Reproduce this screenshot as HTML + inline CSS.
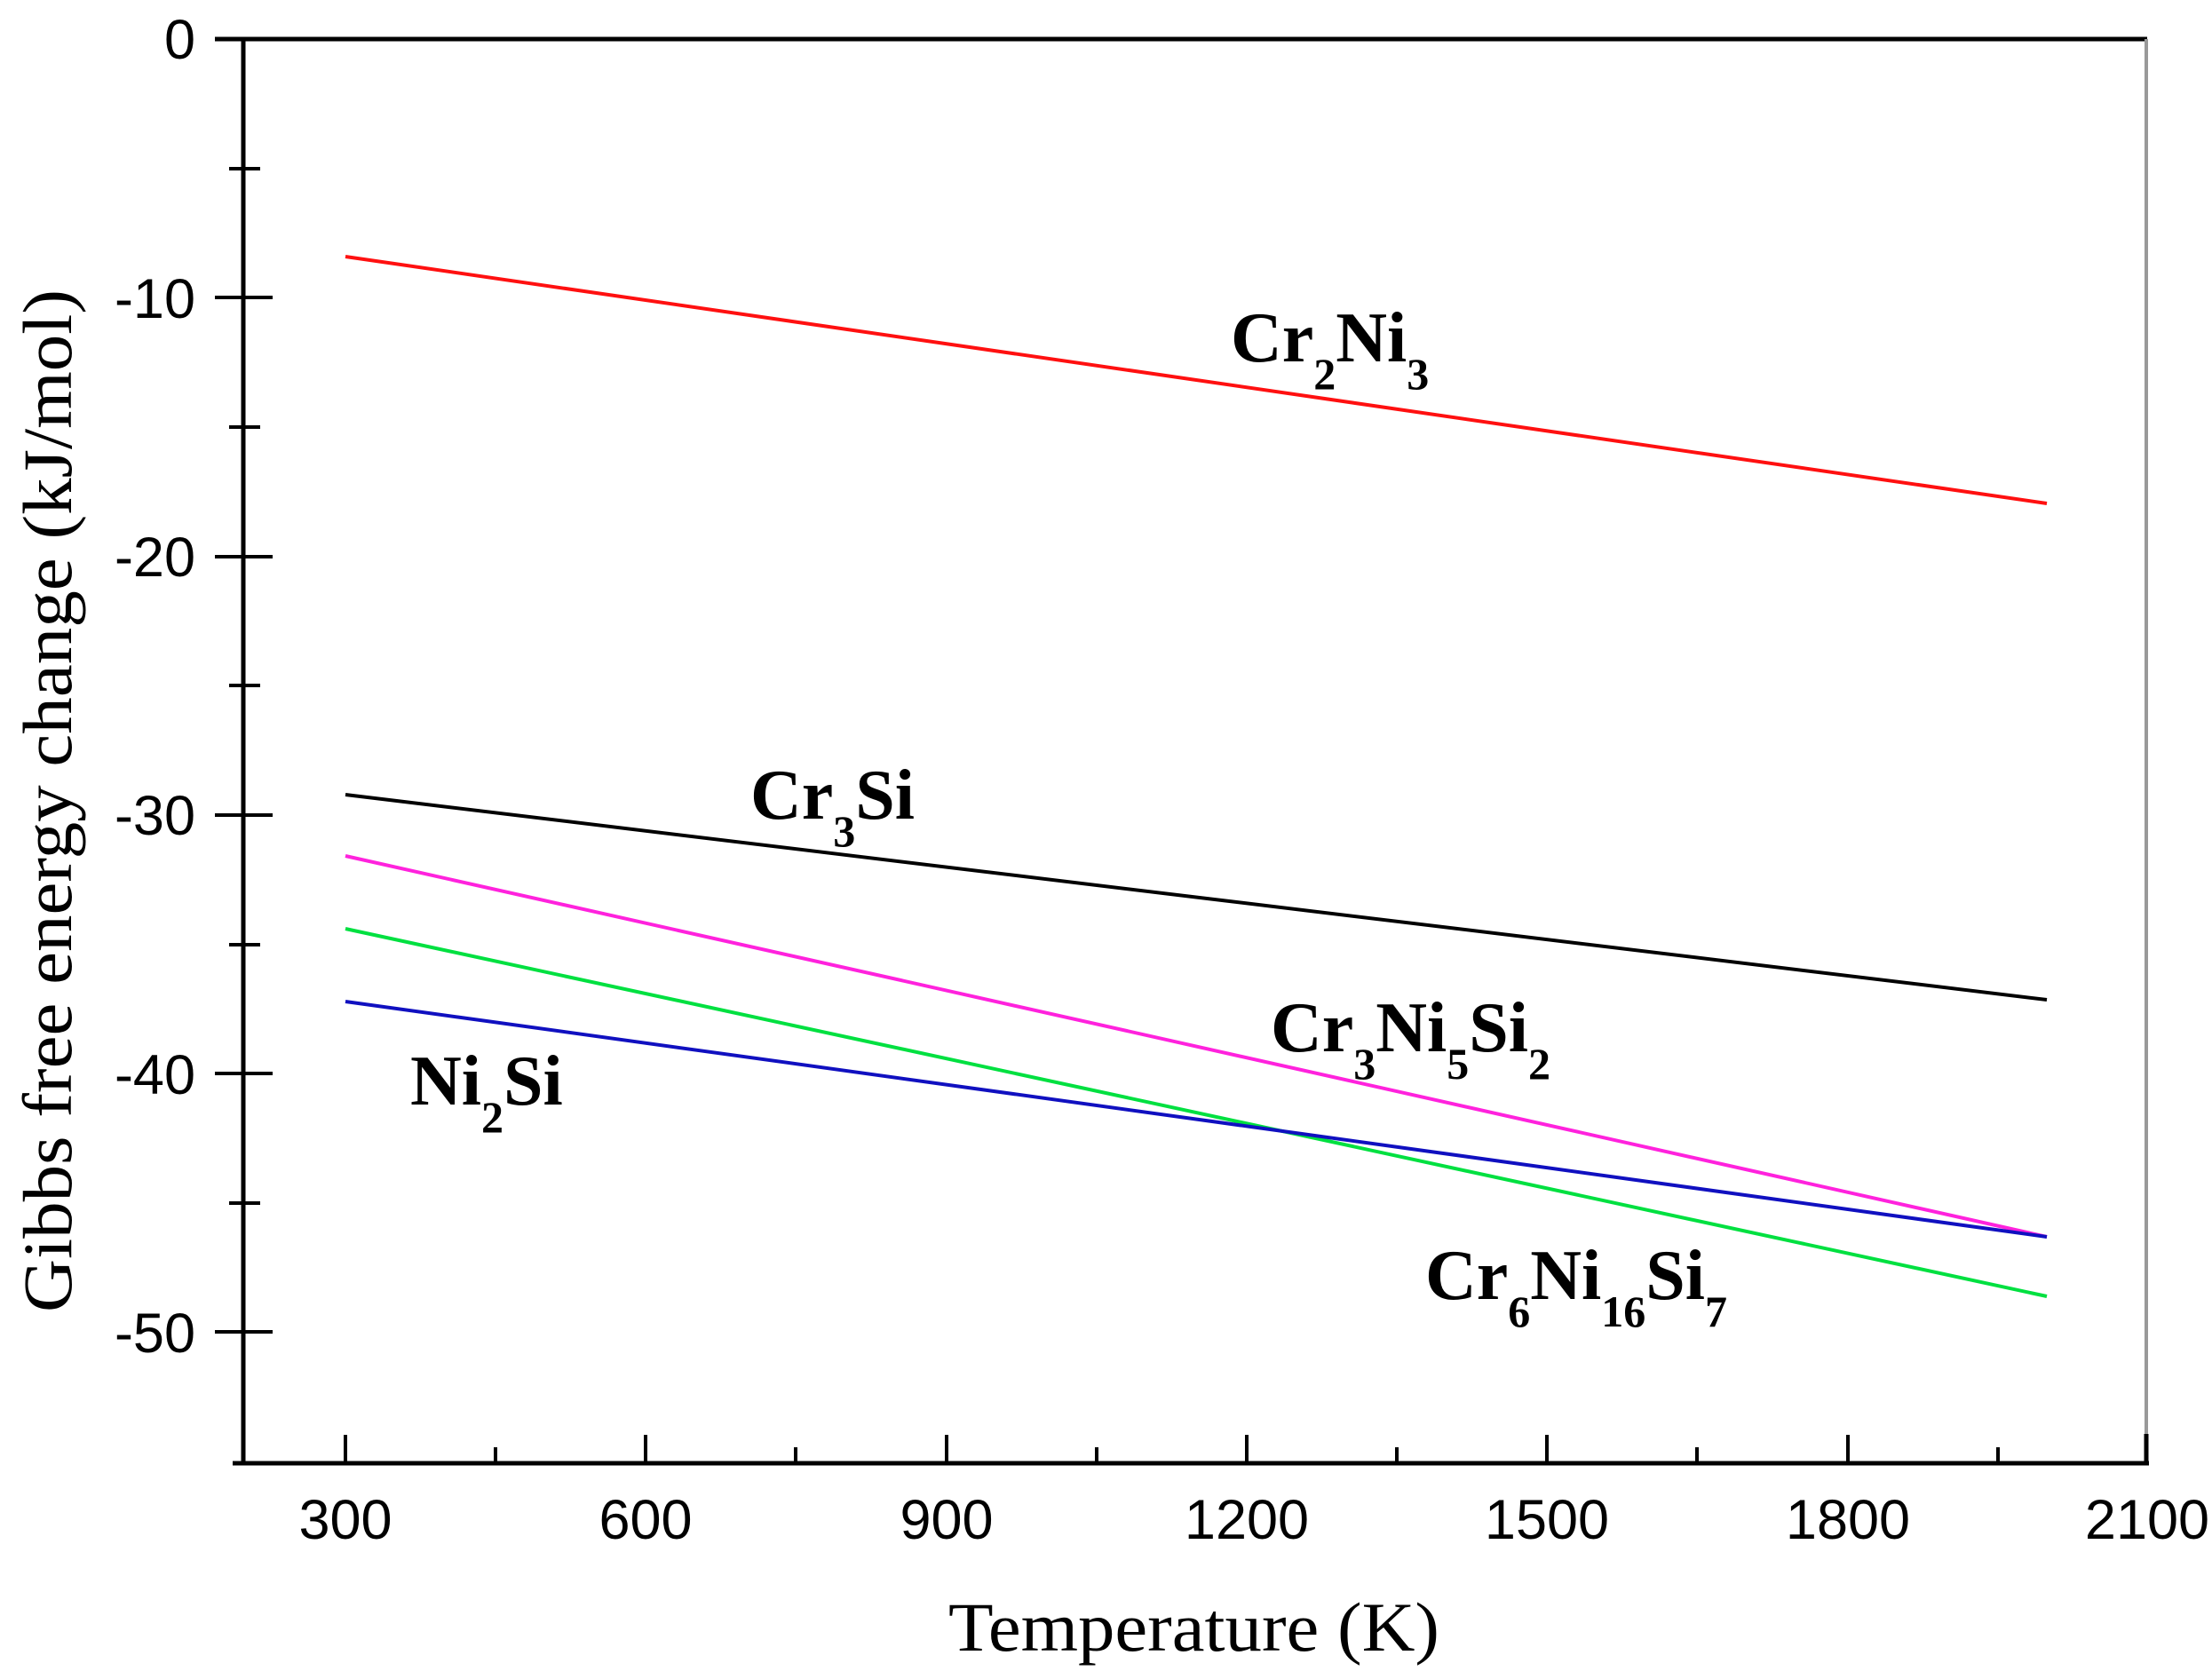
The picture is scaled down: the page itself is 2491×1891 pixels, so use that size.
<!DOCTYPE html>
<html><head><meta charset="utf-8"><style>html,body{margin:0;padding:0;background:#fff;}svg{display:block}</style></head>
<body>
<svg width="2491" height="1891" viewBox="0 0 2491 1891" xmlns="http://www.w3.org/2000/svg">
<rect width="2491" height="1891" fill="#fff"/>
<g stroke-width="4" fill="none" stroke-linecap="butt">
<line x1="389" y1="289" x2="2305" y2="567" stroke="#ff1010"/>
<line x1="389" y1="895" x2="2305" y2="1126" stroke="#000"/>
<line x1="389" y1="964" x2="2305" y2="1393" stroke="#ff22dd"/>
<line x1="389" y1="1046" x2="2305" y2="1460" stroke="#00e040"/>
<line x1="389" y1="1128" x2="2305" y2="1393" stroke="#1010c0"/>
</g>
<g stroke="#000" stroke-width="5" fill="none">
<line x1="242" y1="44" x2="2418" y2="44"/>
<line x1="274" y1="42" x2="274" y2="1648"/>
<line x1="262" y1="1648" x2="2420" y2="1648"/>
</g>
<line x1="2417" y1="44" x2="2417" y2="1618" stroke="#999" stroke-width="4"/>
<line x1="2417" y1="1615" x2="2417" y2="1650" stroke="#000" stroke-width="5"/>
<g stroke="#000" stroke-width="4">
<line x1="242" y1="335" x2="307" y2="335"/>
<line x1="242" y1="627" x2="307" y2="627"/>
<line x1="242" y1="918" x2="307" y2="918"/>
<line x1="242" y1="1209" x2="307" y2="1209"/>
<line x1="242" y1="1500" x2="307" y2="1500"/>
<line x1="258" y1="190" x2="293" y2="190"/>
<line x1="258" y1="481" x2="293" y2="481"/>
<line x1="258" y1="772" x2="293" y2="772"/>
<line x1="258" y1="1064" x2="293" y2="1064"/>
<line x1="258" y1="1355" x2="293" y2="1355"/>
<line x1="389" y1="1616" x2="389" y2="1648"/>
<line x1="727" y1="1616" x2="727" y2="1648"/>
<line x1="1066" y1="1616" x2="1066" y2="1648"/>
<line x1="1404" y1="1616" x2="1404" y2="1648"/>
<line x1="1742" y1="1616" x2="1742" y2="1648"/>
<line x1="2081" y1="1616" x2="2081" y2="1648"/>
<line x1="558" y1="1630" x2="558" y2="1648"/>
<line x1="896" y1="1630" x2="896" y2="1648"/>
<line x1="1235" y1="1630" x2="1235" y2="1648"/>
<line x1="1573" y1="1630" x2="1573" y2="1648"/>
<line x1="1911" y1="1630" x2="1911" y2="1648"/>
<line x1="2250" y1="1630" x2="2250" y2="1648"/>
</g>
<g font-family="Liberation Sans, Arial, sans-serif" font-size="63" fill="#000">
<g text-anchor="end">
<text x="220" y="66">0</text>
<text x="220" y="358">-10</text>
<text x="220" y="649">-20</text>
<text x="220" y="940">-30</text>
<text x="220" y="1232">-40</text>
<text x="220" y="1523">-50</text>
</g>
<g text-anchor="middle">
<text x="389" y="1733">300</text>
<text x="727" y="1733">600</text>
<text x="1066" y="1733">900</text>
<text x="1404" y="1733">1200</text>
<text x="1742" y="1733">1500</text>
<text x="2081" y="1733">1800</text>
<text x="2418" y="1733">2100</text>
</g>
</g>
<g font-family="Liberation Serif, Times New Roman, serif" fill="#000">
<text x="1068" y="1859" font-size="78" textLength="553" lengthAdjust="spacingAndGlyphs">Temperature (K)</text>
<text transform="translate(80,1478) rotate(-90)" x="0" y="0" font-size="78" textLength="1152" lengthAdjust="spacingAndGlyphs">Gibbs free energy change (kJ/mol)</text>
</g>
<g font-family="Liberation Serif, Times New Roman, serif" font-weight="bold" font-size="80" fill="#000">
<text x="1386" y="407">Cr<tspan font-size="50" dy="31">2</tspan><tspan dy="-31">Ni</tspan><tspan font-size="50" dy="31">3</tspan></text>
<text x="845" y="922">Cr<tspan font-size="50" dy="31">3</tspan><tspan dy="-31">Si</tspan></text>
<text x="1431" y="1184">Cr<tspan font-size="50" dy="31">3</tspan><tspan dy="-31">Ni</tspan><tspan font-size="50" dy="31">5</tspan><tspan dy="-31">Si</tspan><tspan font-size="50" dy="31">2</tspan></text>
<text x="462" y="1244">Ni<tspan font-size="50" dy="31">2</tspan><tspan dy="-31">Si</tspan></text>
<text x="1605" y="1463">Cr<tspan font-size="50" dy="31">6</tspan><tspan dy="-31">Ni</tspan><tspan font-size="50" dy="31">16</tspan><tspan dy="-31">Si</tspan><tspan font-size="50" dy="31">7</tspan></text>
</g>
</svg>
</body></html>
